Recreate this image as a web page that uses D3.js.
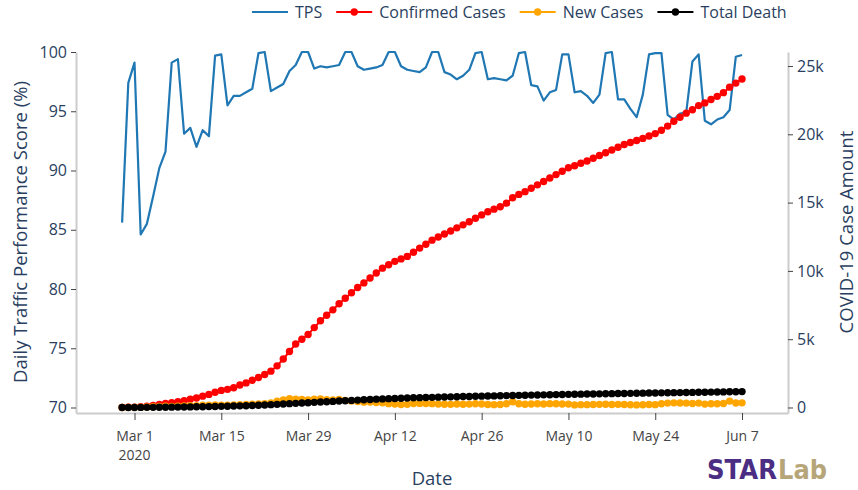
<!DOCTYPE html>
<html>
<head>
<meta charset="utf-8">
<script src="https://cdn.jsdelivr.net/npm/d3@7"></script>
<style>
    body { margin: 0; background: #fff; }
    svg { display: block; font-family: 'Open Sans', verdana, arial, sans-serif; }
</style>
</head>
<body>
<div id="chart"></div>
<script>
// One value per day, Feb 28 2020 .. Jun 7 2020
var firstDay = '2020-02-28';

var tps = [
    85.6, 97.4,
    99.1, 84.6, 85.5, 87.8, 90.2, 91.6, 99.1, 99.4, 93.1, 93.6, 92.0, 93.4, 92.9, 99.7, 99.8, 95.5,
    96.3, 96.3, 96.6, 96.9, 99.9, 100, 96.7, 97.0, 97.3, 98.4, 98.9, 100, 100, 98.6, 98.8,
    98.7, 98.8, 98.9, 100, 100, 98.8, 98.5, 98.6, 98.7, 98.9, 100, 100, 98.8, 98.5, 98.4,
    98.3, 98.7, 100, 100, 98.3, 98.1, 97.7, 98.0, 98.5, 99.9, 100, 97.7, 97.8, 97.7, 97.6,
    98.0, 99.9, 100, 97.2, 97.1, 95.9, 96.6, 96.8, 99.8, 99.8, 96.6, 96.7, 96.3, 95.7, 96.4,
    99.9, 100, 96.0, 96.0, 95.2, 94.5, 96.4, 99.8, 99.9, 99.9, 94.7, 94.3, 94.8, 94.9, 99.2, 99.8,
    94.2, 93.9, 94.3, 94.5, 95.1, 99.6, 99.75
];

var confirmedCases = [
    10, 20,
    30, 50, 90, 150, 230, 300, 360, 420, 500, 600, 700, 830, 960, 1120, 1250, 1330,
    1450, 1650, 1800, 1990, 2200, 2420, 2660, 3050, 3550, 4100, 4650, 5000, 5340, 5850, 6350,
    6750, 7150, 7600, 8000, 8400, 8780, 9120, 9480, 9850, 10200, 10450, 10700, 10880, 11060, 11370,
    11670, 11950, 12250, 12480, 12700, 12920, 13150, 13370, 13600, 13850, 14100, 14330, 14520, 14700, 14960,
    15350, 15600, 15800, 16050, 16300, 16550, 16800, 17050, 17300, 17550, 17700, 17880, 18050, 18250, 18450,
    18650, 18850, 19050, 19250, 19400, 19550, 19700, 19880, 20050, 20300, 20600, 20950, 21250, 21550, 21800, 22100,
    22300, 22550, 22780, 23050, 23450, 23750, 24050
];

var newCases = [
    5, 8,
    10, 20, 35, 50, 70, 90, 80, 90, 110, 130, 140, 160, 170, 190, 170, 160,
    190, 210, 220, 240, 260, 280, 330, 470, 560, 640, 610, 590, 560, 610, 630,
    570, 560, 590, 520, 480, 430, 390, 400, 360, 340, 280, 250, 220, 230, 290,
    300, 290, 280, 250, 240, 230, 260, 240, 250, 270, 260, 220, 210, 220, 270,
    420, 270, 240, 260, 270, 260, 280, 270, 260, 250, 190, 210, 210, 220, 230,
    240, 220, 230, 220, 200, 190, 200, 220, 210, 270, 320, 340, 330, 320, 290, 320,
    250, 270, 270, 290, 470, 330, 340
];

var totalDeath = [
    1, 2,
    5, 7, 10, 12, 15, 20, 24, 30, 37, 42, 50, 58, 66, 75, 85, 96,
    108, 120, 133, 150, 168, 188, 210, 232, 256, 280, 304, 328, 352, 376, 400,
    424, 448, 472, 496, 520, 543, 566, 588, 610, 630, 648, 664, 680, 694, 708,
    720, 732, 744, 756, 767, 778, 789, 800, 810, 820, 830, 840, 850, 860, 870,
    880, 890, 900, 909, 918, 927, 936, 945, 953, 961, 969, 977, 985, 993, 1000,
    1008, 1015, 1022, 1029, 1036, 1043, 1050, 1057, 1064, 1071, 1078, 1085, 1092, 1099, 1106, 1113,
    1120, 1127, 1134, 1141, 1148, 1155, 1162
];

var xTicks = ['2020-03-01', '2020-03-15', '2020-03-29', '2020-04-12', '2020-04-26', '2020-05-10', '2020-05-24', '2020-06-07'];
var leftTicks = [70, 75, 80, 85, 90, 95, 100];
var rightTicks = [0, 5000, 10000, 15000, 20000, 25000];

var seriesNames = ['TPS', 'Confirmed Cases', 'New Cases', 'Total Death'];
var seriesColors = ['#1f77b4', '#ff0000', '#ffa500', '#000000'];

var width = 858, height = 490;
var plot = { left: 76, right: 788, top: 52, bottom: 413 };
var textColor = '#2a3f5f';

var parseDate = d3.timeParse('%Y-%m-%d');
var start = parseDate(firstDay);
var days = tps.map(function(d, i) { return d3.timeDay.offset(start, i); });

var svg = d3.select('#chart')
    .append('svg')
    .attr('width', width)
    .attr('height', height);

// Scales
var x = d3.scaleTime()
    .domain([new Date(2020, 1, 20, 13, 30), new Date(2020, 5, 14, 10, 0)])
    .range([plot.left, plot.right]);

var yLeft = d3.scaleLinear()
    .domain([69.536, 100])
    .range([plot.bottom, plot.top]);

var yRight = d3.scaleLinear()
    .domain([-403, 26025])
    .range([plot.bottom, plot.top]);

function styleAxis(g, fontSize, color) {
    g.select('.domain').attr('stroke', '#cccccc').attr('stroke-width', 2);
    g.selectAll('.tick line').attr('stroke', '#444').attr('stroke-width', 1);
    g.selectAll('.tick text')
        .attr('fill', color)
        .style('font-size', fontSize + 'px')
        .style('font-family', "'Open Sans', verdana, arial, sans-serif");
}

// X axis
var xAxis = svg.append('g')
    .attr('transform', 'translate(0,' + plot.bottom + ')')
    .call(d3.axisBottom(x)
        .tickValues(xTicks.map(parseDate))
        .tickSize(7)
        .tickSizeOuter(0)
        .tickPadding(11)
        .tickFormat(d3.timeFormat('%b %-d')));
styleAxis(xAxis, 14, '#444');

// year under the first tick
svg.append('text')
    .attr('x', x(parseDate(xTicks[0])))
    .attr('y', 460)
    .attr('text-anchor', 'middle')
    .attr('fill', '#444')
    .style('font-size', '14px')
    .text('2020');

// Left axis
var leftAxis = svg.append('g')
    .attr('transform', 'translate(' + plot.left + ',0)')
    .call(d3.axisLeft(yLeft)
        .tickValues(leftTicks)
        .tickSize(5)
        .tickSizeOuter(0)
        .tickPadding(4));
styleAxis(leftAxis, 16, textColor);

// Right axis
var rightAxis = svg.append('g')
    .attr('transform', 'translate(' + plot.right + ',0)')
    .call(d3.axisRight(yRight)
        .tickValues(rightTicks)
        .tickSize(5)
        .tickSizeOuter(0)
        .tickPadding(4)
        .tickFormat(function(d) { return d === 0 ? '0' : (d / 1000) + 'k'; }));
styleAxis(rightAxis, 16, textColor);

// Axis titles
svg.append('text')
    .attr('transform', 'translate(21,232) rotate(-90)')
    .attr('text-anchor', 'middle')
    .attr('dy', '0.35em')
    .attr('fill', textColor)
    .style('font-size', '18.5px')
    .text('Daily Traffic Performance Score (%)');

svg.append('text')
    .attr('transform', 'translate(847,232) rotate(-90)')
    .attr('text-anchor', 'middle')
    .attr('dy', '0.35em')
    .attr('fill', textColor)
    .style('font-size', '18.5px')
    .text('COVID-19 Case Amount');

svg.append('text')
    .attr('x', (plot.left + plot.right) / 2)
    .attr('y', 485)
    .attr('text-anchor', 'middle')
    .attr('fill', textColor)
    .style('font-size', '18.5px')
    .text('Date');

// TPS line (left axis)
var tpsLine = d3.line()
    .x(function(d, i) { return x(days[i]); })
    .y(function(d) { return yLeft(d); });

svg.append('path')
    .datum(tps)
    .attr('fill', 'none')
    .attr('stroke', seriesColors[0])
    .attr('stroke-width', 2.2)
    .attr('stroke-linejoin', 'round')
    .attr('d', tpsLine);

// Case series (right axis): line plus dots
var caseLine = d3.line()
    .x(function(d, i) { return x(days[i]); })
    .y(function(d) { return yRight(d); });

[confirmedCases, newCases, totalDeath].forEach(function(values, k) {
    var color = seriesColors[k + 1];
    var g = svg.append('g');
    g.append('path')
        .datum(values)
        .attr('fill', 'none')
        .attr('stroke', color)
        .attr('stroke-width', 2)
        .attr('d', caseLine);
    g.selectAll('circle')
        .data(values)
        .enter()
        .append('circle')
        .attr('cx', function(d, i) { return x(days[i]); })
        .attr('cy', function(d) { return yRight(d); })
        .attr('r', 3.7)
        .attr('fill', color);
});

// Legend
var legend = svg.append('g').attr('transform', 'translate(252,12)');
var lx = 0;
seriesNames.forEach(function(name, i) {
    var item = legend.append('g').attr('transform', 'translate(' + lx + ',0)');
    item.append('line')
        .attr('x1', 0).attr('x2', 36)
        .attr('stroke', seriesColors[i])
        .attr('stroke-width', 2.2);
    if (i > 0) {
        item.append('circle')
            .attr('cx', 18)
            .attr('r', 3.7)
            .attr('fill', seriesColors[i]);
    }
    var label = item.append('text')
        .attr('x', 43)
        .attr('dy', '0.35em')
        .attr('fill', textColor)
        .style('font-size', '16px')
        .text(name);
    lx += 43 + label.node().getComputedTextLength() + 14;
});

// STARLab logo
var logo = svg.append('g')
    .attr('transform', 'translate(707,479)')
    .style('font-family', "'DejaVu Sans', sans-serif")
    .style('font-weight', 'bold')
    .style('font-size', '26px');
logo.append('text')
    .attr('x', 0)
    .attr('textLength', 70)
    .attr('lengthAdjust', 'spacingAndGlyphs')
    .attr('fill', '#4b2e83')
    .text('STAR');
logo.append('text')
    .attr('x', 71)
    .attr('textLength', 49)
    .attr('lengthAdjust', 'spacingAndGlyphs')
    .attr('fill', '#b7a57a')
    .text('Lab');
</script>
</body>
</html>
